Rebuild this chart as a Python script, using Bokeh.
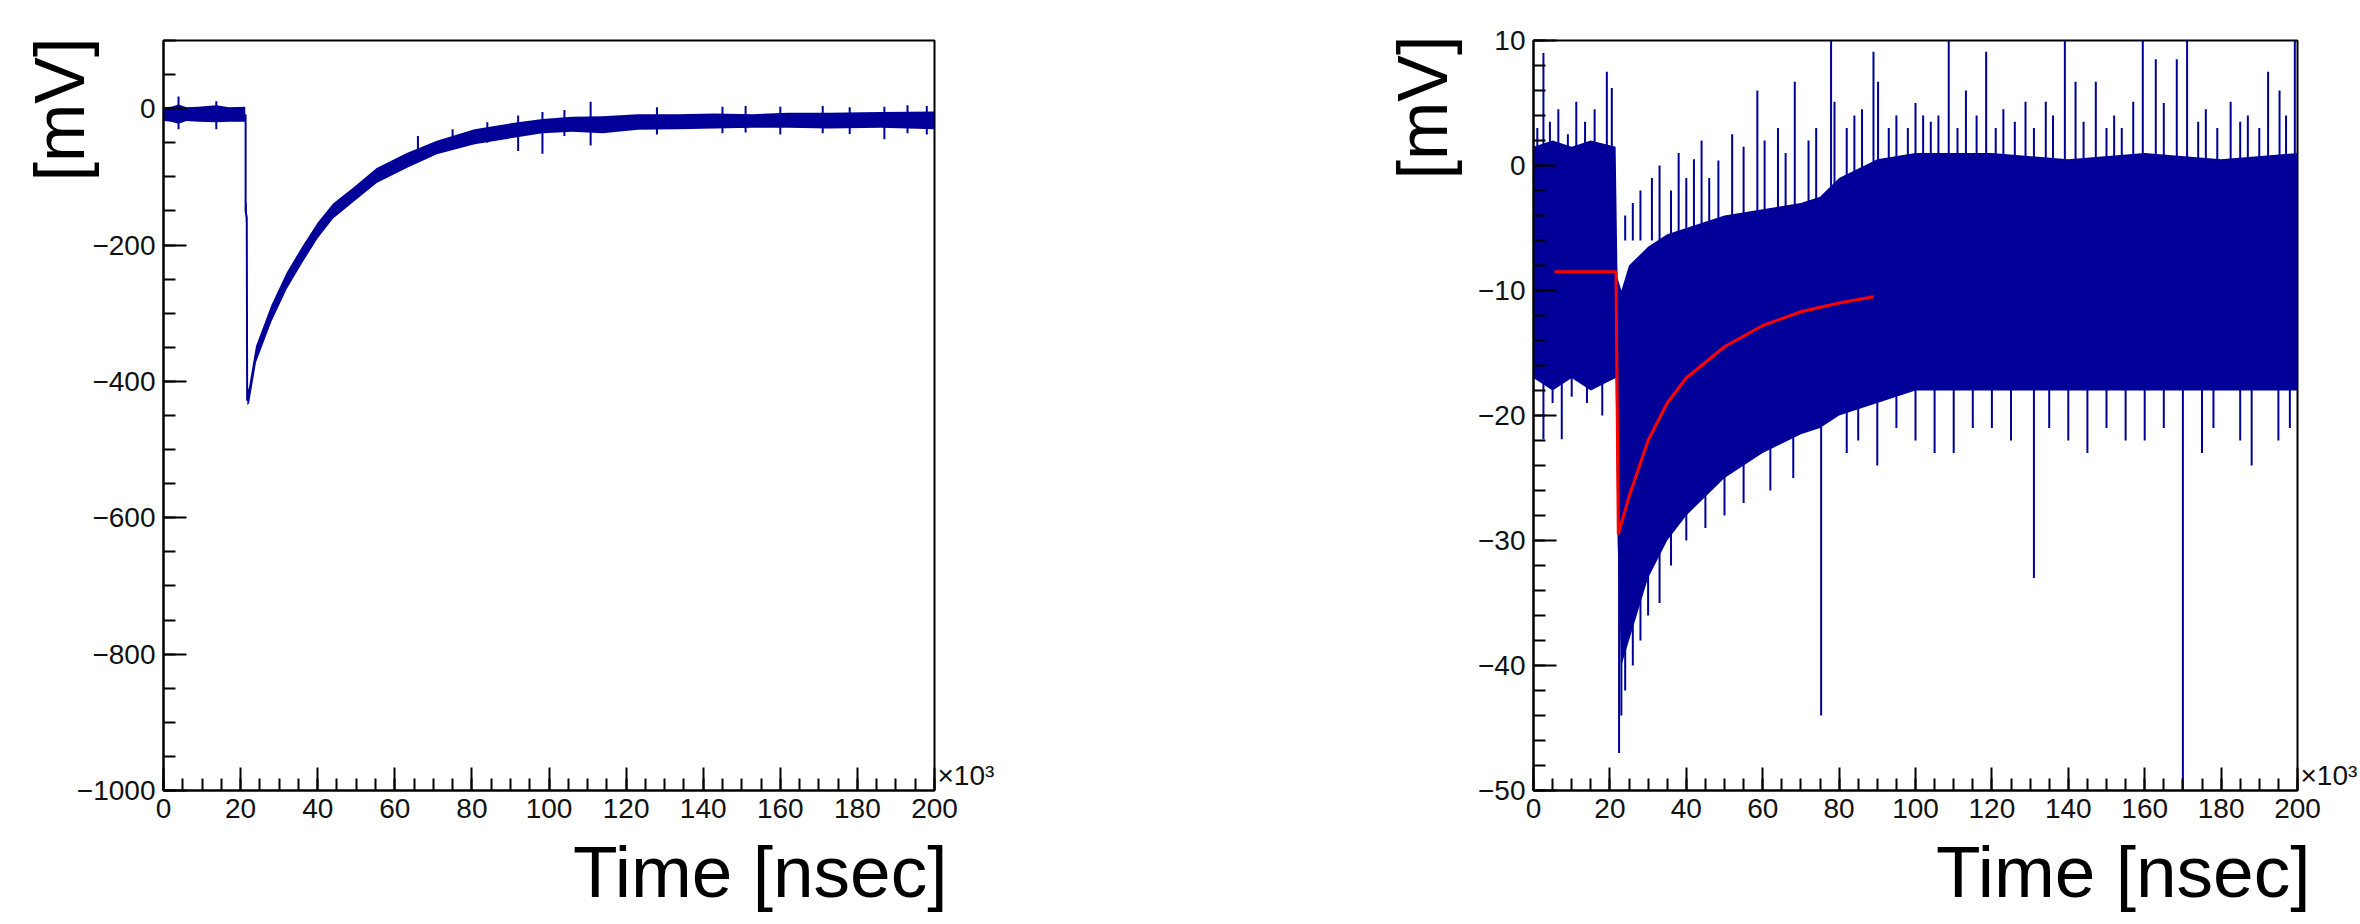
import math
from bokeh.plotting import figure
from bokeh.layouts import row
from bokeh.models import FixedTicker, Range1d, Title, LinearAxis
from bokeh.embed import file_html
from bokeh.resources import INLINE

# ---------------- data (time in units of 10^3 nsec, amplitude in mV) ----------------
# left: single waveform, noise band edges
left_t  = [0, 2, 3.9, 6, 9, 13.7, 17, 21.2, 21.35, 21.6, 21.75, 22.2, 24, 28, 32, 36, 40, 44,
           49.4, 55.3, 63.1, 70.9, 80.7, 90.5, 98.3, 106, 113.9, 123, 133.4, 143, 152.8, 162,
           172.5, 186, 200]
left_hi = [2, 3, 6, 2, 3, 5, 2, 3, -135, -140, -415, -408, -348, -288, -240, -202, -167, -139,
           -115, -87, -65, -47, -30, -21, -15, -12, -11, -8, -8, -7, -8, -6, -6, -5, -4]
left_lo = [-18, -19, -22, -18, -19, -20, -19, -19, -165, -168, -435, -432, -372, -312, -264, -226,
           -190, -161, -136, -109, -87, -67, -52, -43, -36, -34, -36, -31, -30, -29, -28, -28,
           -29, -28, -30]
left_drop_t = [21.3, 21.3, 21.6, 21.7, 22.0]
left_drop_v = [-8, -150, -160, -428, -425]
left_spk_t  = [3.9, 13.7, 66, 75, 84, 92, 98.3, 104, 110.8, 128, 145, 151, 160, 171, 178, 187, 193, 198]
left_spk_lo = [-30, -30, -70, -55, -50, -62, -66, -40, -54, -38, -36, -35, -38, -36, -37, -45, -36, -38]
left_spk_hi = [18, 11, -40, -30, -20, -10, -5, -2, 10, 2, 3, 4, 3, 4, 2, 3, 5, 4]

# right: trigger-averaged noise, band edges, spikes and fit curve
right_t  = [0, 5, 10, 15, 21.5, 22, 23, 25, 30, 35, 40, 50, 60, 70, 75, 80, 90, 100, 120, 140, 160, 180, 200]
right_hi = [1.5, 2, 1.5, 2, 1.5, -9, -10, -8, -6.5, -5.5, -5, -4, -3.5, -3, -2.5, -1, 0.5, 1, 1, 0.5, 1, 0.5, 1]
right_lo = [-17, -18, -17, -18, -17, -30, -40, -38, -33, -30, -28, -25, -23, -21.5, -21, -20, -19,
            -18, -18, -18, -18, -18, -18]
up_t   = [1.0, 2.6, 4.3, 6.5, 9, 11.2, 13.5, 16, 19.2, 20.5, 24, 26, 28, 31, 33, 36, 38, 40, 42,
          44, 46, 48.4, 52, 55, 58.6, 60.5, 64, 66, 68.4, 72, 74, 77.9, 78.8, 82, 84, 86, 89.0,
          90.2, 93, 95, 98, 100, 102, 104, 106, 108.7, 111, 113.2, 116, 118.5, 121, 123, 126,
          128.8, 131, 134.1, 136, 139.1, 141.9, 144, 147.2, 150, 152, 154, 157.0, 159.5, 162.9,
          165, 168.4, 171.1, 174, 176, 179, 182.5, 185, 187, 190, 192.3, 195.3, 197, 199.3]
up_v   = [3.0, 9.0, 3.5, 4.5, 2.5, 5.1, 3.5, 4.5, 7.5, 6.2, -4, -3, -2, -1, 0, -2, 1, -1, 0.5,
          2, -1, 0.4, 2.5, 1.5, 6.0, 2.0, 3, 1, 6.7, 2, 3, 10, 5.1, 3, 4, 4.5, 9.1,
          6.7, 3, 4, 3, 5, 4, 3.5, 4, 10, 3, 6.0, 4, 9.1, 3, 4.5, 3.5,
          5.1, 3, 5.1, 4, 10, 6.7, 3.5, 6.7, 3, 4, 3, 5.1, 10, 8.5,
          5, 8.5, 10, 3.5, 4.5, 3, 5.1, 3.5, 4, 3, 7.5, 6.0, 4, 10]
down_t = [2.6, 5, 7.4, 10, 14, 18, 22.4, 23, 24, 26, 28, 30, 33, 36, 40, 45, 50, 55, 62, 68,
          75.3, 82, 85, 90, 95, 100, 105, 110, 115, 120, 125, 131, 135, 140, 145, 150, 155, 160,
          165, 170, 175, 178, 185, 188, 195, 198]
down_v = [-21.9, -19, -21.9, -18.5, -19, -20, -47, -44, -42, -40, -38, -36, -35, -32, -30, -29,
          -28, -27, -26, -25, -44, -23, -22, -24, -21, -22, -23, -23, -21, -21, -22, -33, -21, -22,
          -23, -21, -22, -22, -21, -50, -23, -21, -22, -24, -22, -21]
fit_t = [5.5, 10, 15, 21.6, 22.2, 25, 30, 35, 40, 50, 60, 70, 80, 89]
fit_v = [-8.5, -8.5, -8.5, -8.5, -29.5, -26.5, -22, -19, -17, -14.5, -12.8, -11.7, -11, -10.5]

x_major = [0, 20, 40, 60, 80, 100, 120, 140, 160, 180, 200]
left_y_major = [0, -200, -400, -600, -800, -1000]
right_y_major = [10, 0, -10, -20, -30, -40, -50]

FONT = "Liberation Sans"
BLUE = "#000099"
RED = "#ff0000"


def minus(v):
    return str(v).replace("-", "\u2212")


def make_title(text, size, align, offset, standoff, valign, pad_top=None):
    t = Title(text=text, align=align, offset=offset, vertical_align=valign,
              text_font=FONT, text_font_size=size, text_font_style="normal",
              text_color="black")
    try:
        t.standoff = standoff
    except Exception:
        t.standoff = 0
    if pad_top is not None:
        try:
            t.padding = dict(left=0, right=0, top=pad_top, bottom=0)
        except Exception:
            t.standoff = 6
    return t


def style(p, ymajor, yminor, exp_y):
    p.grid.visible = False
    p.outline_line_color = "black"
    p.outline_line_width = 2
    p.background_fill_color = "white"
    p.border_fill_color = "white"
    p.xaxis.ticker = FixedTicker(ticks=x_major, minor_ticks=list(range(0, 201, 5)))
    p.yaxis.ticker = FixedTicker(ticks=ymajor, minor_ticks=yminor)
    p.xaxis.major_label_overrides = {v: str(v) for v in x_major}
    p.yaxis.major_label_overrides = {v: minus(v) for v in ymajor}
    for ax in (p.xaxis[0], p.yaxis[0]):
        ax.axis_line_width = 2
        ax.major_tick_in = 23
        ax.major_tick_out = 0
        ax.minor_tick_in = 12
        ax.minor_tick_out = 0
        ax.major_tick_line_width = 2
        ax.minor_tick_line_width = 2
        ax.major_label_text_font = FONT
        ax.major_label_text_font_size = "28px"
        ax.major_label_text_color = "#111111"
        ax.major_label_standoff = 8
    # exponent marker "x10^3" next to the end of the time axis
    ex = LinearAxis(ticker=FixedTicker(ticks=[exp_y], minor_ticks=[]),
                    major_label_overrides={exp_y: "\u00d710\u00b3"},
                    axis_line_color=None, major_tick_line_color=None,
                    minor_tick_line_color=None, major_label_standoff=3,
                    major_tick_in=0, major_tick_out=0, minor_tick_in=0, minor_tick_out=0,
                    major_label_text_font=FONT, major_label_text_font_size="28px",
                    major_label_text_color="#111111")
    p.add_layout(ex, "right")
    p.add_layout(make_title("Time [nsec]", "73px", "right", -13, 0, "top", pad_top=10), "below")


# ---------------- left panel ----------------
p1 = figure(width=1180, height=924, x_range=Range1d(0, 200), y_range=Range1d(-1000, 100),
            output_backend="svg", toolbar_location=None,
            min_border_left=163, min_border_right=246, min_border_top=38, min_border_bottom=134)
style(p1, left_y_major, list(range(-1000, 101, 50)), -978)
p1.varea(x=left_t, y1=left_lo, y2=left_hi, fill_color=BLUE)
p1.line(left_drop_t, left_drop_v, line_color=BLUE, line_width=2)
p1.segment(x0=left_spk_t, y0=left_spk_lo, x1=left_spk_t, y1=left_spk_hi, line_color=BLUE, line_width=2)
p1.add_layout(make_title("[mV]", "70px", "right", -3, -51, "bottom"), "left")

# ---------------- right panel ----------------
p2 = figure(width=1180, height=924, x_range=Range1d(0, 200), y_range=Range1d(-50, 10),
            output_backend="svg", toolbar_location=None,
            min_border_left=353, min_border_right=60, min_border_top=40, min_border_bottom=134)
style(p2, right_y_major, list(range(-50, 11, 2)), -48.8)
p2.varea(x=right_t, y1=right_lo, y2=right_hi, fill_color=BLUE)
p2.segment(x0=up_t, y0=-6, x1=up_t, y1=up_v, line_color=BLUE, line_width=2)
p2.segment(x0=down_t, y0=-12, x1=down_t, y1=down_v, line_color=BLUE, line_width=2)
p2.line(fit_t, fit_v, line_color=RED, line_width=3)
p2.add_layout(make_title("[mV]", "70px", "right", -5, 28, "bottom"), "left")

layout = row(p1, p2)
open("out.html", "w").write(file_html(layout, INLINE))
